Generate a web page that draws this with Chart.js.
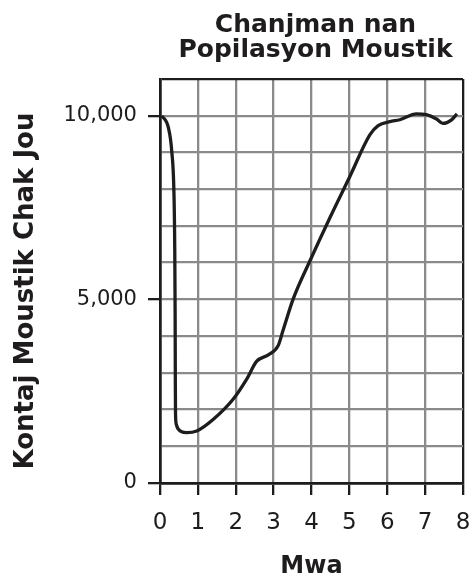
<!DOCTYPE html>
<html>
<head>
<meta charset="utf-8">
<script src="https://cdn.jsdelivr.net/npm/chart.js@4.4.1/dist/chart.umd.min.js"></script>
<style>
  html, body { margin: 0; padding: 0; background: #fff; }
  #wrap { width: 472px; height: 580px; }
</style>
</head>
<body>
<div id="wrap"><canvas id="mosquitoChart"></canvas></div>
<script>
var titleLines = ["Chanjman nan", "Popilasyon Moustik"];
var xTitle = "Mwa";
var yTitle = "Kontaj Moustik Chak Jou";

// month, mosquito count
var months = [0.05, 0.22, 0.31, 0.37, 0.39, 0.40, 0.405, 0.41, 0.43, 0.48, 0.70, 0.97, 1.41, 1.93, 2.29, 2.55, 2.86, 3.12, 3.25, 3.52, 3.96, 4.48, 5.01, 5.54, 5.76, 6.07, 6.33, 6.77, 7.03, 7.30, 7.47, 7.69, 7.84];
var counts = [10000, 9680, 9040, 7850, 6400, 4600, 2800, 1900, 1600, 1470, 1370, 1415, 1735, 2280, 2830, 3310, 3490, 3740, 4160, 5020, 6050, 7210, 8340, 9480, 9730, 9840, 9890, 10050, 10030, 9910, 9790, 9880, 10050];
var yLabelTicks = [0, 5000, 10000];

var ink = "#1e1c1d";
var gridGray = "#8a8a8a";
var fontFamily = "'DejaVu Sans', sans-serif";

var points = months.map(function (m, i) { return { x: m, y: counts[i] }; });

// chart title centred over the plot, y title placed by hand
var extraText = {
  id: "extraText",
  afterDraw: function (chart) {
    let ctx = chart.ctx;
    let area = chart.chartArea;
    ctx.save();
    ctx.fillStyle = ink;
    ctx.textAlign = "center";
    ctx.textBaseline = "alphabetic";
    ctx.font = "bold 25px " + fontFamily;
    let cx = (area.left + area.right) / 2 + 4;
    ctx.fillText(titleLines[0], cx, 32);
    ctx.fillText(titleLines[1], cx, 57);

    ctx.translate(26, 291);
    ctx.rotate(-Math.PI / 2);
    ctx.textBaseline = "middle";
    ctx.font = "bold 26px " + fontFamily;
    ctx.fillText(yTitle, 0, 0);
    ctx.restore();
  }
};

let ctx = document.getElementById("mosquitoChart").getContext("2d");

let chart = new Chart(ctx, {
  type: "line",
  data: {
    datasets: [
      {
        label: "Moustik",
        data: points,
        borderColor: ink,
        borderWidth: 3.3,
        pointRadius: 0,
        fill: false,
        cubicInterpolationMode: "monotone",
      },
    ],
  },
  options: {
    responsive: true,
    maintainAspectRatio: false,
    animation: false,
    layout: {
      padding: { top: 79, right: 9, bottom: 0, left: 52.5 },
    },
    plugins: {
      legend: { display: false },
      title: { display: false },
      tooltip: { enabled: false },
    },
    scales: {
      x: {
        type: "linear",
        min: 0,
        max: 8,
        afterFit: function (scale) {
          scale.paddingLeft = 0;
          scale.paddingRight = 0;
        },
        ticks: {
          stepSize: 1,
          padding: 14,
          color: ink,
          font: { family: fontFamily, size: 23 },
        },
        grid: {
          color: function (c) { return c.tick && c.tick.value === 8 ? ink : gridGray; },
          lineWidth: 2.3,
          tickColor: ink,
          tickLength: 12,
          tickWidth: 2.3,
        },
        border: { color: ink, width: 2.7 },
        title: {
          display: true,
          text: xTitle,
          color: ink,
          font: { family: fontFamily, size: 24, weight: "bold", lineHeight: 1 },
          padding: { top: 4.4, bottom: 1 },
        },
      },
      y: {
        min: 0,
        max: 11000,
        ticks: {
          stepSize: 1000,
          padding: 11,
          color: ink,
          font: { family: fontFamily, size: 21 },
          callback: function (v) {
            return yLabelTicks.indexOf(v) >= 0 ? v.toLocaleString("en-US") : "";
          },
        },
        grid: {
          color: function (c) { return c.tick && c.tick.value === 11000 ? ink : gridGray; },
          lineWidth: 2.3,
          tickColor: function (c) {
            return c.tick && yLabelTicks.indexOf(c.tick.value) >= 0 ? ink : "rgba(0,0,0,0)";
          },
          tickLength: 12,
          tickWidth: 2.3,
        },
        border: { color: ink, width: 2.7 },
        title: { display: false },
      },
    },
  },
  plugins: [extraText],
});
</script>
</body>
</html>
